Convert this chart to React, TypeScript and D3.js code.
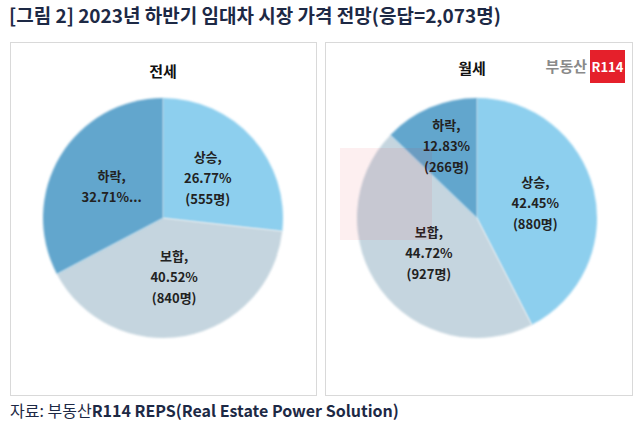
import React from 'react';
import * as d3 from 'd3';

// chart data
const categories = ['상승', '보합', '하락'];
const jeonsePct = [26.77, 40.52, 32.71];
const jeonseCount = [555, 840, 679];
const wolsePct = [42.45, 44.72, 12.83];
const wolseCount = [880, 927, 266];
const panelTitles = ['전세', '월세'];

const colors = ['#8dcfee', '#c5d5df', '#62a6cd'];

const titleText = '[그림 2] 2023년 하반기 임대차 시장 가격 전망(응답=2,073명)';
const sourceText = ['자료: 부동산', 'R114 REPS(Real Estate Power Solution)'];

const font = "'Noto Sans CJK KR', 'Noto Sans', sans-serif";
const ink = '#1d2945';

interface PieProps {
  cx: number;
  cy: number;
  pct: number[];
  counts: number[];
  truncate?: number;
}

function Pie({ cx, cy, pct, counts, truncate }: PieProps) {
  const radius = 120;
  const pie = d3.pie<number>().sort(null).value(d => d);
  const arcs = pie(pct);
  const arc = d3.arc<d3.PieArcDatum<number>>().innerRadius(0).outerRadius(radius);

  return (
    <g transform={`translate(${cx},${cy})`}>
      {arcs.map((a, i) => (
        <path key={i} d={arc(a) || ''} fill={colors[i]} filter="url(#soft)" />
      ))}
      {arcs.map((a, i) => {
        // small slices get their label pushed out a bit, like Excel's best fit
        const lr = pct[i] < 20 ? radius * 1.3 : radius;
        const [x, y] = d3.arc<d3.PieArcDatum<number>>().innerRadius(0).outerRadius(lr).centroid(a);
        const lines = truncate === i
          ? [`${categories[i]},`, `${pct[i].toFixed(2)}%...`]
          : [`${categories[i]},`, `${pct[i].toFixed(2)}%`, `(${counts[i]}명)`];
        const top = y - ((lines.length - 1) * 21) / 2;
        return (
          <text key={i} textAnchor="middle" fontSize={13} fontWeight="bold" fill="#222"
            fontFamily={font}>
            {lines.map((l, j) => (
              <tspan key={j} x={x} y={top + j * 21} dy="0.35em">{l}</tspan>
            ))}
          </text>
        );
      })}
    </g>
  );
}

export default function App() {
  const w = 643, h = 429;
  return (
    <svg width={w} height={h} style={{ position: 'absolute', left: 0, top: 0, background: '#fff' }}>
      <defs>
        <filter id="soft" x="-10%" y="-10%" width="120%" height="120%">
          <feGaussianBlur stdDeviation="0.8" />
        </filter>
      </defs>
      <rect width={w} height={h} fill="#fff" />
      <text x={9} y={23} fontSize={19} fontWeight="bold" fill={ink} fontFamily={font}>{titleText}</text>

      {/* panels */}
      <rect x={10.5} y={42.5} width={306} height={353} fill="none" stroke="#d9d9d9" />
      <rect x={325.5} y={42.5} width={307} height={353} fill="none" stroke="#d9d9d9" />

      <text x={163} y={72} textAnchor="middle" dy="0.35em" fontSize={15} fontWeight="bold" fill="#111" fontFamily={font}>{panelTitles[0]}</text>
      <text x={472} y={69} textAnchor="middle" dy="0.35em" fontSize={15} fontWeight="bold" fill="#111" fontFamily={font}>{panelTitles[1]}</text>

      <Pie cx={163} cy={218} pct={jeonsePct} counts={jeonseCount} truncate={2} />
      <Pie cx={477} cy={218} pct={wolsePct} counts={wolseCount} />

      {/* faint watermark block over the pies */}
      <rect x={340} y={148} width={92} height={92} fill="#e8202a" opacity={0.07} />

      {/* logo */}
      <text x={587} y={67} textAnchor="end" dy="0.35em" fontSize={15} fontWeight="bold" fill="#8a8a8a" fontFamily={font}>부동산</text>
      <rect x={590} y={50} width={35} height={33} fill="#e5202b" />
      <text x={607.5} y={67} textAnchor="middle" dy="0.35em" fontSize={13} fontWeight="bold" fill="#fff" fontFamily={font}>R114</text>

      <text x={10} y={417} fontSize={16} fill={ink} fontFamily={font}>
        <tspan>{sourceText[0]}</tspan><tspan fontWeight="bold">{sourceText[1]}</tspan>
      </text>
    </svg>
  );
}
